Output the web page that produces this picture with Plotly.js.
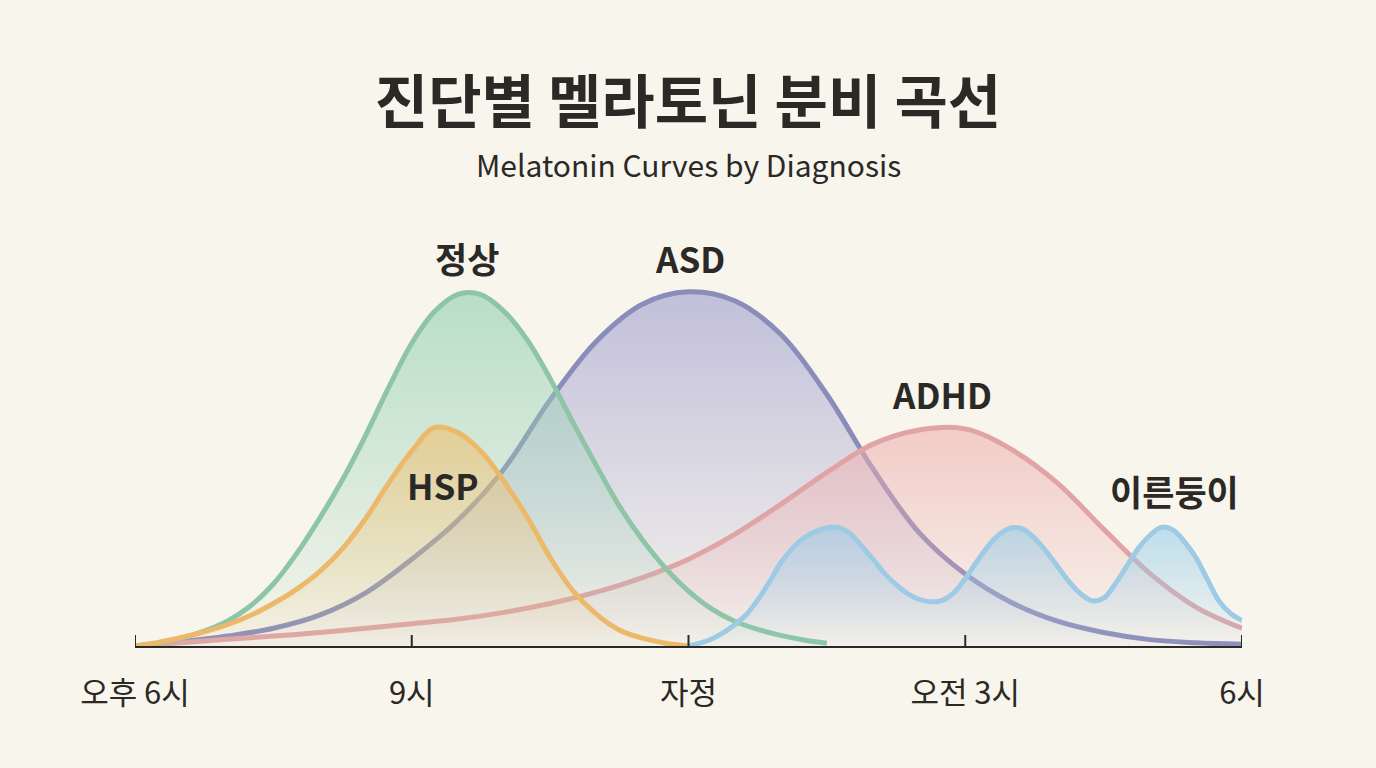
<!DOCTYPE html>
<html>
<head>
<meta charset="utf-8">
<script src="https://cdn.plot.ly/plotly-3.0.1.min.js"></script>
<style>
  html, body { margin: 0; padding: 0; background: #f8f5ed; }
  #chart { width: 1376px; height: 768px; }
</style>
</head>
<body>
<div id="chart"></div>
<script>
// hours after noon: 18 = 오후 6시, 30 = 오전 6시
var tickHours = [18, 21, 24, 27, 30]
var tickLabels = ['오후 6시', '9시', '자정', '오전 3시', '6시']

var halfHours = [18, 18.5, 19, 19.5, 20, 20.5, 21, 21.5, 22, 22.5, 23, 23.5, 24, 24.5, 25, 25.5, 26, 26.5, 27, 27.5, 28, 28.5, 29, 29.5, 30]

var normalHours = [18, 18.25, 18.5, 18.75, 19, 19.25, 19.5, 19.75, 20, 20.25, 20.5, 20.75, 21, 21.25, 21.5, 21.75, 22, 22.25, 22.5, 22.75, 23, 23.25, 23.5, 23.75, 24, 24.25, 24.5, 24.75, 25, 25.25, 25.5]
var normalLevels = [0, 0.8, 2.2, 4.2, 7, 11.3, 17.5, 26, 36, 47, 59.5, 73, 85.5, 94.5, 99.3, 99.2, 94.5, 86.5, 75.5, 63, 51, 39.5, 30, 22, 15.5, 10.5, 7, 4.7, 3, 1.7, 0.8]

var hspHours = [18, 18.25, 18.5, 18.75, 19, 19.25, 19.5, 19.75, 20, 20.25, 20.5, 20.75, 21, 21.25, 21.5, 21.75, 22, 22.25, 22.5, 22.75, 23, 23.25, 23.5, 23.75, 24]
var hspLevels = [0, 1, 2.4, 4, 6, 8.6, 12, 16, 21, 27.5, 36, 46, 55, 61.7, 60.3, 55, 46.5, 36.5, 25, 15.5, 9, 4.5, 2.2, 0.8, 0]

var asdLevels = [0, 1.2, 2.8, 5, 8.7, 15, 24.5, 35.5, 50, 69.5, 86, 96.5, 100, 97.5, 88, 71, 50, 32, 20.3, 12.3, 7, 3.8, 1.8, 0.9, 0.5]

var adhdLevels = [0, 0.9, 1.9, 2.8, 3.8, 5, 6.3, 7.6, 9.5, 12, 15.2, 19.3, 24.5, 31.5, 40, 49, 57, 61, 61.3, 55.5, 46, 33, 20.5, 11, 5]

var pretermHours = [24, 24.125, 24.25, 24.375, 24.5, 24.625, 24.75, 24.875, 25, 25.125, 25.25, 25.375, 25.5, 25.625, 25.75, 25.875,
  26, 26.125, 26.25, 26.375, 26.5, 26.625, 26.75, 26.875, 27, 27.125, 27.25, 27.375, 27.5, 27.625, 27.75, 27.875,
  28, 28.125, 28.25, 28.375, 28.5, 28.625, 28.75, 28.875, 29, 29.125, 29.25, 29.375, 29.5, 29.625, 29.75, 29.875, 30]
var pretermLevels = [0, 0.8, 2, 3.7, 6, 8.8, 13, 18, 23.5, 27.5, 30.5, 32.3, 33.4, 33.5, 31.8, 28.3,
  24.5, 20.5, 17.3, 14.8, 13.2, 12.5, 12.9, 15, 19, 23.8, 28.3, 31.6, 33.4, 33, 30.5, 26.8,
  22.5, 18.2, 14.8, 12.8, 13.5, 17.5, 22.5, 27.5, 31.2, 33.5, 32.8, 29.5, 25, 18.8, 12.7, 9.2, 7.2]

var ink = '#2b2926'
var krFont = '"Noto Sans CJK KR", "Noto Sans", sans-serif'

function curve(x, y, line, rgb, alpha) {
  return {
    x: x, y: y,
    type: 'scatter',
    mode: 'lines',
    line: {color: line, width: 5, shape: 'spline', smoothing: 1},
    fill: 'tozeroy',
    fillcolor: 'rgba(' + rgb + ',' + alpha + ')',
    fillgradient: {
      type: 'vertical',
      colorscale: [[0, 'rgba(' + rgb + ',0.03)'], [1, 'rgba(' + rgb + ',' + alpha + ')']]
    },
    hoverinfo: 'skip',
    showlegend: false
  }
}

var traces = [
  curve(halfHours, asdLevels, '#8a8cba', '170,168,210', 0.7),
  curve(halfHours, adhdLevels, '#e0a4a6', '238,175,175', 0.6),
  curve(normalHours, normalLevels, '#8dc5a6', '150,210,180', 0.65),
  curve(hspHours, hspLevels, '#ecb96a', '240,190,110', 0.6),
  curve(pretermHours, pretermLevels, '#9dcbe5', '150,205,235', 0.6)
]

var labelStyle = {family: krFont, size: 35, color: ink}
var curveLabels = [
  {text: '정상', x: 21.6, y: 109.6},
  {text: 'ASD', x: 24.02, y: 109.6},
  {text: 'HSP', x: 21.34, y: 45.5},
  {text: 'ADHD', x: 26.75, y: 71.2},
  {text: '이른둥이', x: 29.27, y: 43.8}
]

var annotations = curveLabels.map(function(l) {
  return {text: '<b>' + l.text + '</b>', x: l.x, y: l.y, xref: 'x', yref: 'y',
          showarrow: false, font: labelStyle, xanchor: 'center', yanchor: 'middle'}
})
annotations.push({
  text: 'Melatonin Curves by Diagnosis', xref: 'paper', yref: 'paper',
  x: 0.5, y: (646 - 164) / 425, showarrow: false,
  xanchor: 'center', yanchor: 'middle',
  font: {family: krFont, size: 30, color: ink}
})

var shapes = tickHours.map(function(h) {
  return {type: 'line', xref: 'x', yref: 'y', x0: h, x1: h,
          ysizemode: 'pixel', yanchor: 0, y0: -11, y1: 11,
          line: {color: ink, width: 2}}
})

var layout = {
  width: 1376,
  height: 768,
  margin: {l: 135, r: 134, t: 221, b: 122, pad: 0},
  paper_bgcolor: '#f8f5ed',
  plot_bgcolor: 'rgba(0,0,0,0)',
  title: {
    text: '<b>진단별 멜라토닌 분비 곡선</b>',
    x: 0.5, xanchor: 'center',
    y: 1 - 103 / 768, yref: 'container', yanchor: 'middle',
    font: {family: krFont, size: 58, color: ink}
  },
  xaxis: {
    range: [18, 30],
    tickvals: tickHours,
    ticktext: tickLabels,
    ticks: '',
    showgrid: false,
    zeroline: false,
    showline: true,
    linecolor: ink,
    linewidth: 2,
    ticklabelstandoff: 19,
    tickfont: {family: krFont, size: 31, color: ink},
    fixedrange: true
  },
  yaxis: {
    range: [0, 120],
    visible: false,
    fixedrange: true
  },
  annotations: annotations,
  shapes: shapes
}

Plotly.newPlot('chart', traces, layout, {displayModeBar: false, staticPlot: true})
</script>
</body>
</html>
